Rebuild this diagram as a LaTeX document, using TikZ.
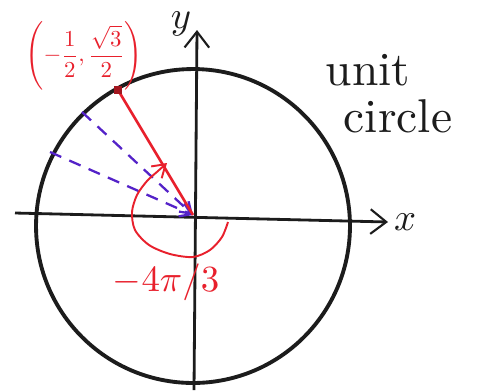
\documentclass[tikz,border=0pt]{standalone}
\usepackage{tikz}
\usetikzlibrary{arrows.meta, positioning}
\definecolor{penred}{RGB}{232,32,44}
\definecolor{penviolet}{RGB}{84,34,200}
\definecolor{penink}{RGB}{28,28,28}
\tikzstyle{axis} = [
    draw=penink,
    line width=1.6pt,
    -{Straight Barb[length=9pt, width=14pt, line width=1.2pt]}
]
\tikzstyle{rim} = [
    draw=penink,
    line width=2.2pt
]
\tikzstyle{terminal} = [
    draw=penred,
    line width=1.5pt
]
\tikzstyle{guide} = [
    draw=penviolet,
    line width=1.3pt,
    dash pattern=on 7pt off 5pt,
    -{Straight Barb[length=6pt, width=8pt]}
]
\tikzstyle{sweep} = [
    draw=penred,
    line width=1.1pt,
    -{Straight Barb[length=7pt, width=9pt]}
]
\tikzstyle{inklabel} = [
    text=penink,
    inner sep=0pt
]
\tikzstyle{redlabel} = [
    text=penred,
    inner sep=0pt
]

\begin{document}
\begin{tikzpicture}[x=0.02cm, y=-0.02cm, node distance=4pt]

\useasboundingbox (0,0) rectangle (479,390);

% axes
\coordinate (O) at (193,215);
\coordinate (C) at (193,226);
\coordinate (xstart) at (15,213);
\coordinate (xend) at (388,222);
\coordinate (ystart) at (194,390);
\coordinate (yend) at (197,30);

\draw [rim] (C) circle [radius=3.14cm];

\draw [axis] (xstart) -- (xend);
\draw [axis] (ystart) -- (yend);

\node (xlab) [inklabel, scale=2.2, right=3pt of xend] {$x$};
\node (ylab) [inklabel, scale=2.2] at (181,24) {$y$};

% the terminal point
\coordinate (P) at (118,90);
\coordinate (Q1) at (82,112);
\coordinate (Q2) at (50,152);

\draw [guide] (Q1) -- (O);
\draw [guide] (Q2) -- (O);
\draw [terminal] (O) -- (P);
\node (pt) [fill=penred!70!black, minimum size=0.16cm, inner sep=0pt] at (P) {};

\draw [sweep] plot [smooth] coordinates {
    (228,222) (222,237) (210,250) (193,257) (170,254) (149,245)
    (135,230) (132,212) (137,195) (147,181) (158,171) (167,163)
};

% labels
\node (coords) [redlabel, scale=1.3] at (84,56)
{$\displaystyle\left(-\frac{1}{2},\frac{\sqrt{3}}{2}\right)$};

\node (angle) [redlabel, scale=2.1] at (166,282) {$-4\pi/3$};

\node (unit) [inklabel, scale=2.7] at (368,70) {unit};
\node (circ) [inklabel, scale=2.7] at (398,116) {circle};

\end{tikzpicture}
\end{document}
